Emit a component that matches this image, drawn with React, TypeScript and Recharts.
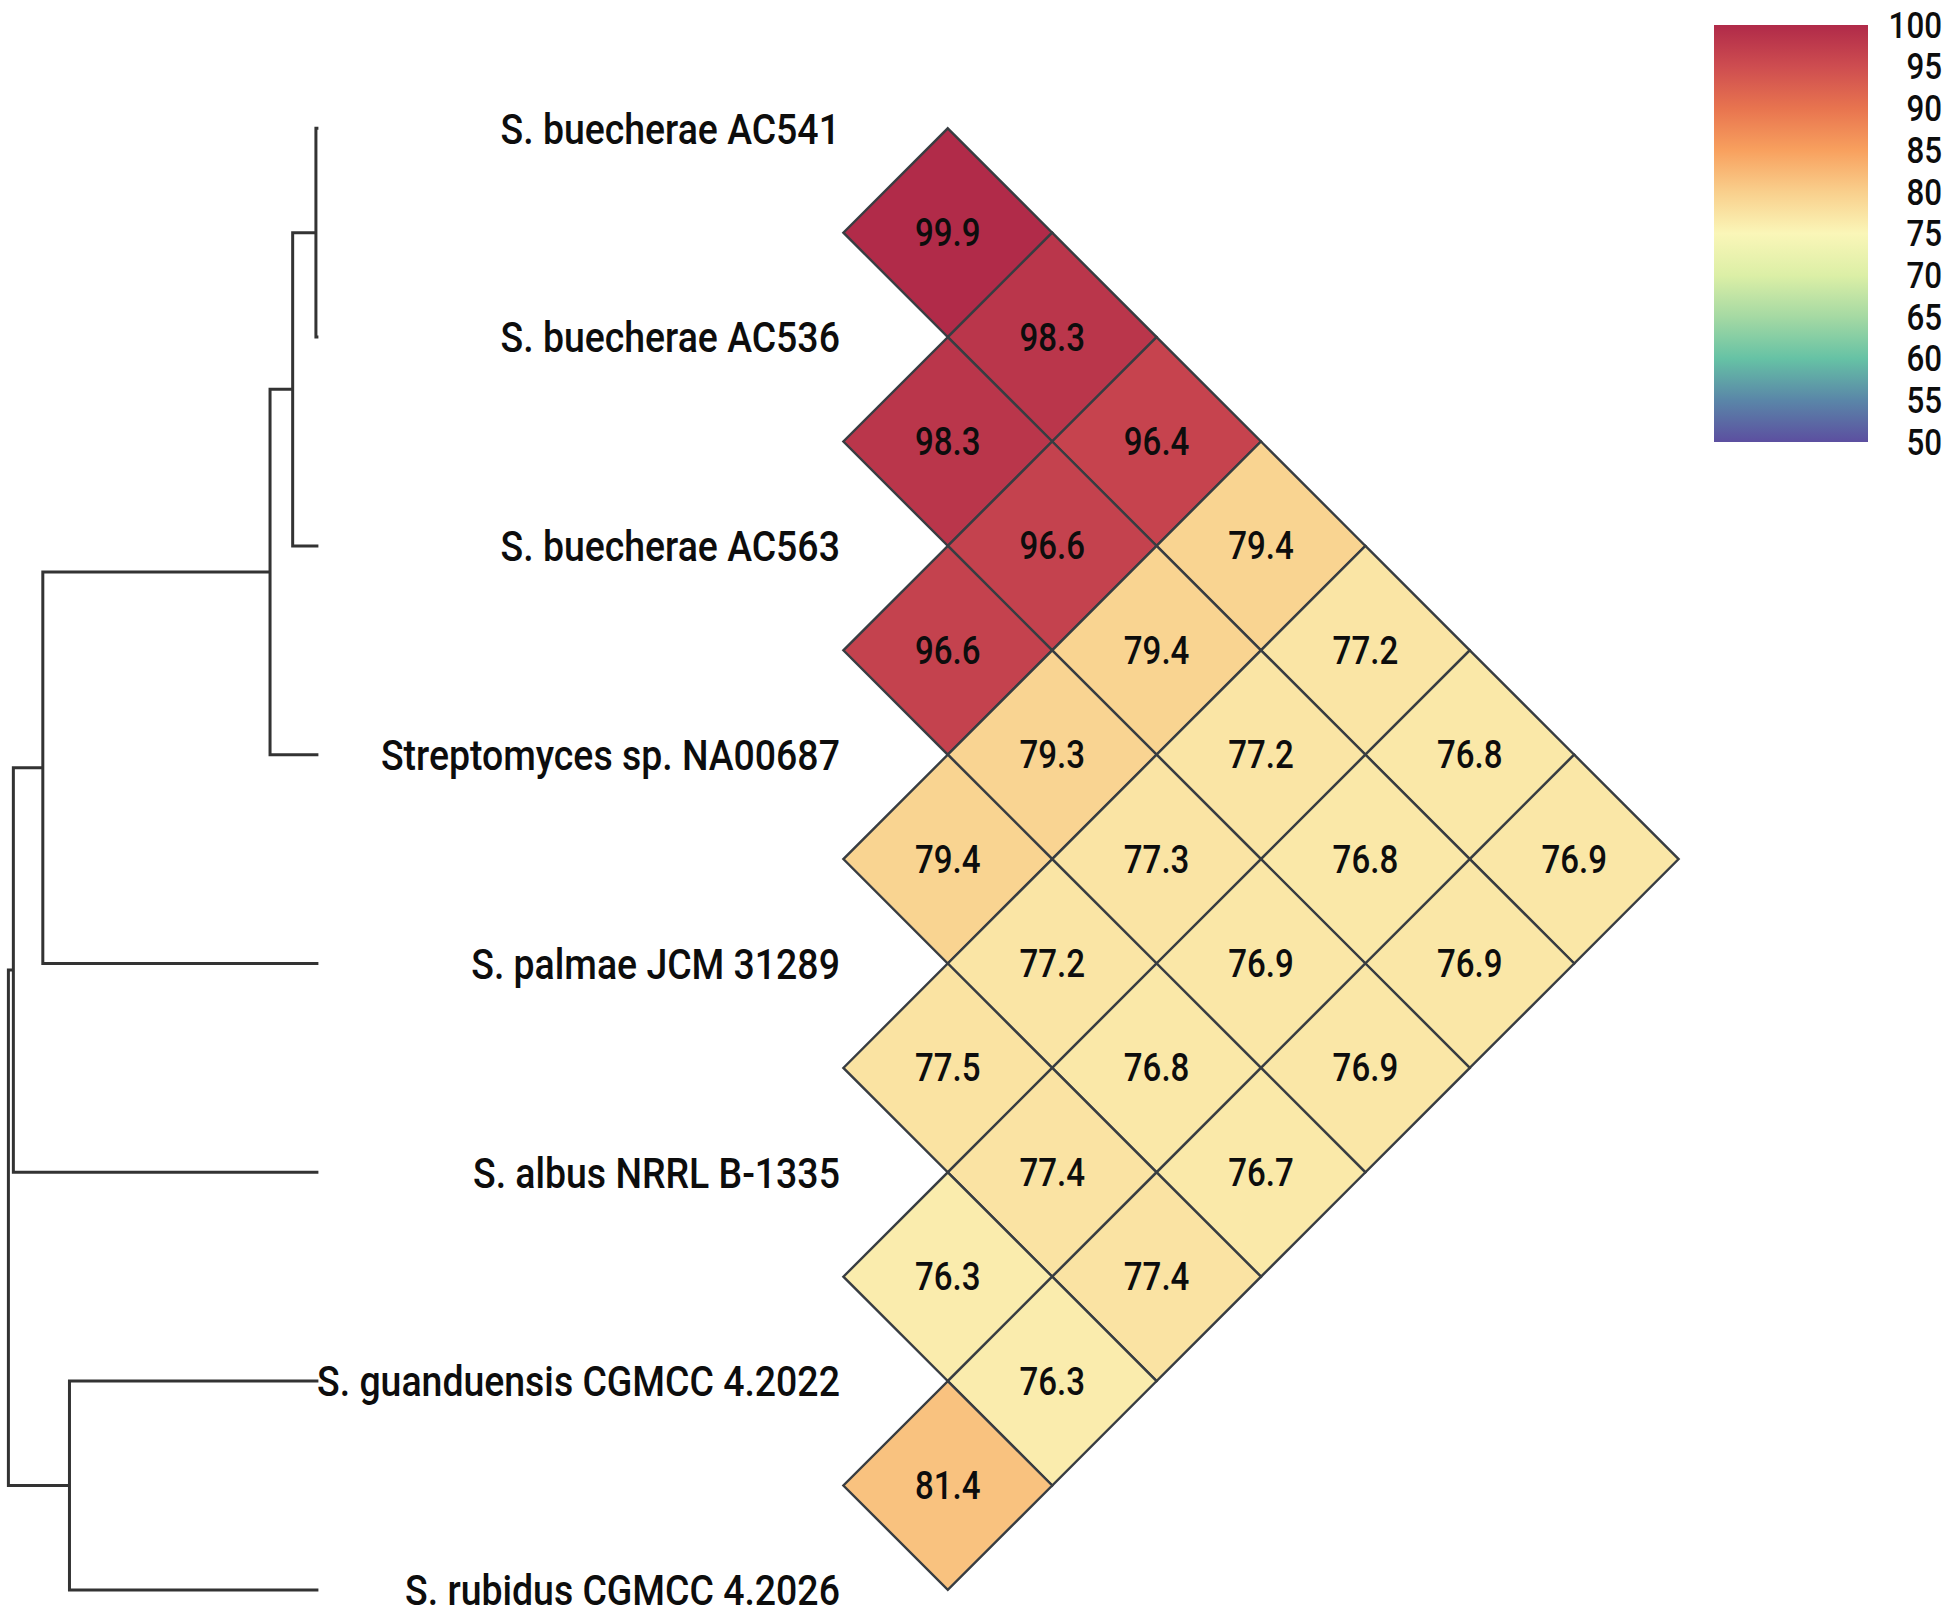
import React from 'react';
import { ComposedChart, Scatter, XAxis, YAxis, BarChart, Bar } from 'recharts';

const strains = [
  'S. buecherae AC541',
  'S. buecherae AC536',
  'S. buecherae AC563',
  'Streptomyces sp. NA00687',
  'S. palmae JCM 31289',
  'S. albus NRRL B-1335',
  'S. guanduensis CGMCC 4.2022',
  'S. rubidus CGMCC 4.2026',
];

// ANI (%) of each strain against every strain listed after it
const aniRow0 = [99.9, 98.3, 96.4, 79.4, 77.2, 76.8, 76.9];
const aniRow1 = [98.3, 96.6, 79.4, 77.2, 76.8, 76.9];
const aniRow2 = [96.6, 79.3, 77.3, 76.9, 76.9];
const aniRow3 = [79.4, 77.2, 76.8, 76.7];
const aniRow4 = [77.5, 77.4, 77.4];
const aniRow5 = [76.3, 76.3];
const aniRow6 = [81.4];
const aniRows = [aniRow0, aniRow1, aniRow2, aniRow3, aniRow4, aniRow5, aniRow6];

// dendrogram in hclust form: negative = leaf number, positive = earlier merge
const mergeLeft = [-1, 1, 2, 3, 4, -7, 5];
const mergeRight = [-2, -3, -4, -5, -6, -8, 6];
const mergeHeight = [0.008, 0.083, 0.156, 0.889, 0.984, 0.803, 1.0];

// colour scale (Spectral, reversed)
const scaleValues = [50, 55, 60, 65, 70, 75, 80, 85, 90, 95, 100];
const scaleColors = ['#5c4fa0', '#5a86a8', '#66c2a5', '#a5d9a3', '#dcefa6', '#faf6b8', '#f9cf8c', '#f8a05e', '#e8744f', '#ce4d50', '#b02a49'];
const legendTicks = [50, 55, 60, 65, 70, 75, 80, 85, 90, 95, 100];

// layout
const W = 1950;
const H = 1613;
const UNIT = 208.8; // px between two leaves
const X0 = 843.4; // left corners of the diamonds
const Y0 = 128.3; // first leaf
const TREE_LEAF_PX = 318.4;
const TREE_ROOT_PX = 8.4;
const SQUEEZE = 0.87;
const FONT = 'Roboto, "Noto Sans", sans-serif';

const xDomain = [-X0 / UNIT, (W - X0) / UNIT];
const yDomain = [-Y0 / UNIT, (H - Y0) / UNIT];
const treeK = (TREE_LEAF_PX - TREE_ROOT_PX) / Math.max(...mergeHeight);
const treeDomain = [(TREE_LEAF_PX - W) / treeK, TREE_LEAF_PX / treeK];

const hexToRgb = (h: string) => [1, 3, 5].map(i => parseInt(h.slice(i, i + 2), 16));

const colorFor = (v: number) => {
  let k = 0;
  while (k < scaleValues.length - 2 && v > scaleValues[k + 1]) k++;
  const t = Math.min(1, Math.max(0, (v - scaleValues[k]) / (scaleValues[k + 1] - scaleValues[k])));
  const a = hexToRgb(scaleColors[k]);
  const b = hexToRgb(scaleColors[k + 1]);
  const c = a.map((ch, i) => Math.round(ch + (b[i] - ch) * t));
  return `rgb(${c[0]},${c[1]},${c[2]})`;
};

const cells = aniRows.flatMap((row, i) =>
  row.map((v, k) => {
    const j = i + 1 + k;
    return { x: (j - i) / 2, y: (i + j) / 2, v };
  })
);

const labels = strains.map((name, i) => ({ x: 0, y: i, name }));

// elbow paths of the dendrogram
const treeNodes: { h: number; y: number }[] = [];
const treePaths = mergeHeight.map((hgt, m) => {
  const pos = (id: number) => (id < 0 ? { h: 0, y: -id - 1 } : treeNodes[id - 1]);
  const a = pos(mergeLeft[m]);
  const b = pos(mergeRight[m]);
  treeNodes.push({ h: hgt, y: (a.y + b.y) / 2 });
  return [
    { x: a.h, y: a.y },
    { x: hgt, y: a.y },
    { x: hgt, y: b.y },
    { x: b.h, y: b.y },
  ];
});

const Condensed = ({ x, y, size, anchor, weight = 400, children }: any) => (
  <text
    transform={`translate(${x},${y + size * 0.3555}) scale(${SQUEEZE},1)`}
    textAnchor={anchor}
    fontSize={size}
    fontFamily={FONT}
    fontWeight={weight}
    fill="#0d0d0d"
  >
    {children}
  </text>
);

const Diamond = (props: any) => {
  const { cx, cy, payload } = props;
  const r = UNIT / 2;
  const pts = `${cx},${cy - r} ${cx + r},${cy} ${cx},${cy + r} ${cx - r},${cy}`;
  return (
    <g>
      <polygon points={pts} fill={colorFor(payload.v)} stroke="#383d42" strokeWidth={2.4} strokeLinejoin="miter" />
      <Condensed x={cx} y={cy} size={38} anchor="middle" weight={500}>
        {payload.v.toFixed(1)}
      </Condensed>
    </g>
  );
};

const StrainLabel = (props: any) => (
  <Condensed x={props.cx - 3.5} y={props.cy} size={43} anchor="end" weight={500}>
    {props.payload.name}
  </Condensed>
);

const LegendTick = (props: any) => (
  <Condensed x={props.x + 74} y={props.y} size={36} anchor="end" weight={500}>
    {props.payload.value}
  </Condensed>
);

const NoDot = () => <g />;

export default function App() {
  return (
    <div style={{ position: 'absolute', left: 0, top: 0, width: W, height: H, background: '#fff' }}>
      <ComposedChart width={W} height={H} margin={{ top: 0, right: 0, bottom: 0, left: 0 }}>
        <XAxis xAxisId="hm" type="number" dataKey="x" domain={xDomain} allowDataOverflow hide />
        <XAxis xAxisId="tree" type="number" dataKey="x" domain={treeDomain} allowDataOverflow reversed hide />
        <YAxis yAxisId="hm" type="number" dataKey="y" domain={yDomain} allowDataOverflow reversed hide />
        {treePaths.map((path, m) => (
          <Scatter
            key={`link-${m}`}
            xAxisId="tree"
            yAxisId="hm"
            data={path}
            line={{ stroke: '#333333', strokeWidth: 3 }}
            lineType="joint"
            shape={NoDot}
            legendType="none"
            isAnimationActive={false}
          />
        ))}
        <Scatter xAxisId="hm" yAxisId="hm" data={cells} shape={Diamond} isAnimationActive={false} />
        <Scatter xAxisId="hm" yAxisId="hm" data={labels} shape={StrainLabel} isAnimationActive={false} />
      </ComposedChart>

      <div style={{ position: 'absolute', left: 1714, top: 0 }}>
        <BarChart
          width={236}
          height={470}
          data={[{ name: 'ANI', range: [50, 100] }]}
          margin={{ top: 25, right: 0, bottom: 28, left: 0 }}
          barCategoryGap={0}
        >
          <defs>
            <linearGradient id="aniScale" x1="0" y1="0" x2="0" y2="1">
              {[...scaleValues].reverse().map(v => (
                <stop key={v} offset={(100 - v) / 50} stopColor={scaleColors[scaleValues.indexOf(v)]} />
              ))}
            </linearGradient>
          </defs>
          <XAxis dataKey="name" hide />
          <YAxis
            orientation="right"
            width={82}
            domain={[50, 100]}
            ticks={legendTicks}
            interval={0}
            axisLine={false}
            tickLine={false}
            tickSize={0}
            tickMargin={0}
            tick={<LegendTick />}
          />
          <Bar dataKey="range" fill="url(#aniScale)" isAnimationActive={false} />
        </BarChart>
      </div>
    </div>
  );
}
